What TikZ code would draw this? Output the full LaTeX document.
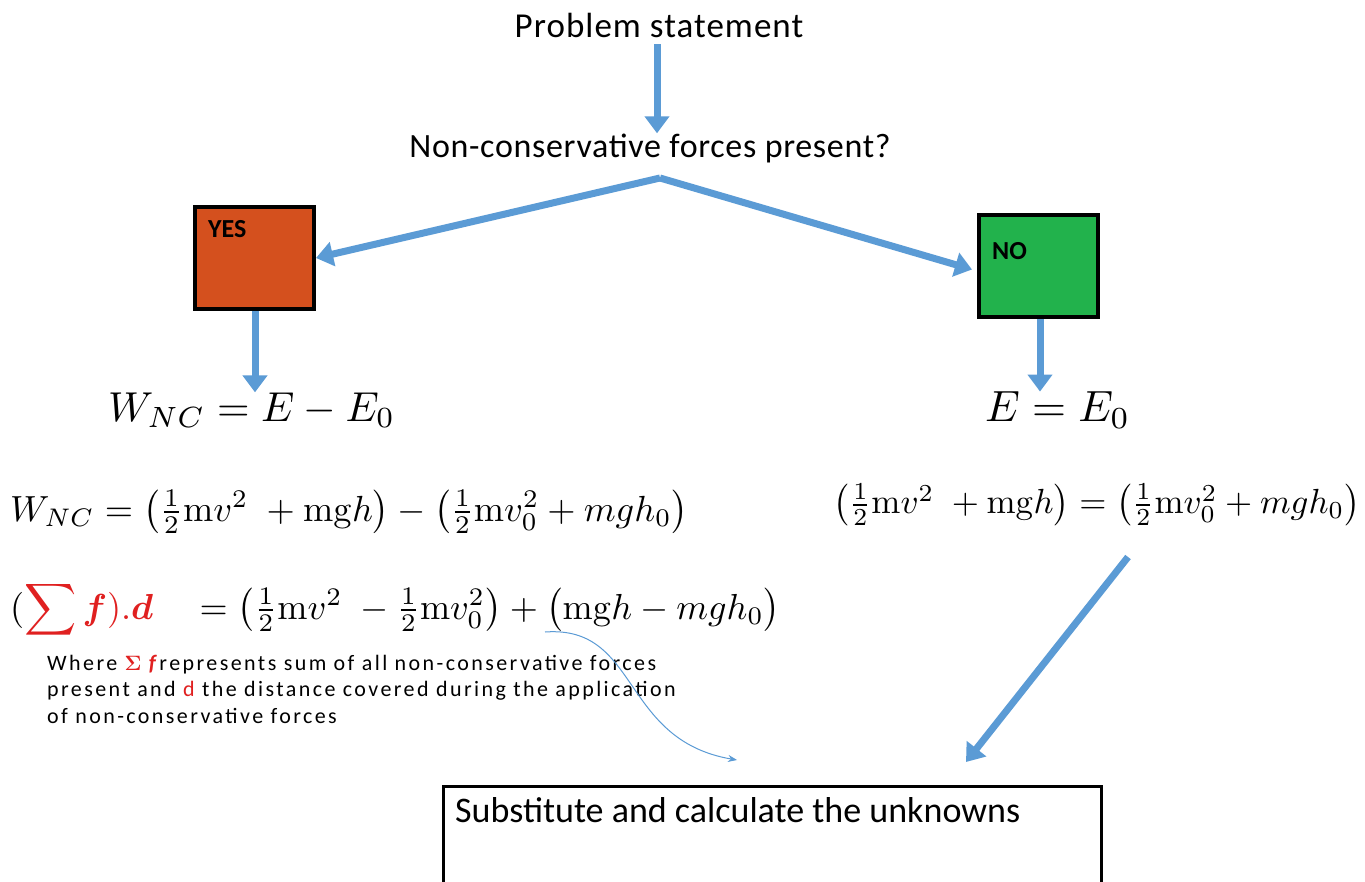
\documentclass[tikz,border=0pt]{standalone}
\usepackage[no-math]{fontspec}
\setmainfont{Carlito}
\usepackage{amsmath,bm,graphicx}
\usetikzlibrary{arrows.meta}
\definecolor{arrblue}{HTML}{5B9BD5}
\definecolor{yesred}{HTML}{D4501E}
\definecolor{nogreen}{HTML}{22B24C}
\definecolor{txtred}{HTML}{E02020}
\tikzset{
  bigarrow/.style={draw=arrblue, line width=7pt, -{Triangle[width=24pt,length=17pt]}},
  thinarrow/.style={draw=arrblue, line width=1pt, -{Stealth[length=9pt,width=7pt]}},
  choicebox/.style={draw=black, line width=4pt, minimum width=119pt, minimum height=102pt, inner sep=0pt},
  boxlabel/.style={anchor=north west, inner sep=0pt, font=\fontsize{26}{28}\selectfont\bfseries},
  heading/.style={inner sep=0pt, font=\fontsize{35}{38}\selectfont\addfontfeature{LetterSpace=3}},
  eqn/.style={anchor=west, inner sep=0pt},
}
\begin{document}
\begin{tikzpicture}[x=1pt,y=-1pt]
\useasboundingbox[fill=white] (0,0) rectangle (1365,882);
\node[heading] (ps) at (659,25) {Problem statement};
\node[heading, font=\fontsize{34}{38}\selectfont\addfontfeature{LetterSpace=2}] (q) at (650,148) {Non-conservative forces present?};
\coordinate (split) at (660,178);

\node[choicebox, fill=yesred] (yes) at (254.5,258) {};
\node[boxlabel] (yeslbl) at (208,220) {YES};
\node[choicebox, fill=nogreen] (no) at (1038.5,266.5) {};
\node[boxlabel] (nolbl) at (992,242) {NO};

\node[eqn] (eq1) at (108,410) {\resizebox{287pt}{!}{$W_{NC} = E - E_0$}};
\node[eqn] (eq2) at (985,410) {\resizebox{145pt}{!}{$E = E_0$}};
\node[eqn] (eq3) at (10,512) {\resizebox{678pt}{!}{$W_{NC} = \bigl(\tfrac{1}{2}\mathrm{m}v^2\;+\mathrm{mg}h\bigr) - \bigl(\tfrac{1}{2}\mathrm{m}v_0^2+mgh_0\bigr)$}};
\node[eqn] (eq4) at (833,505) {\resizebox{527pt}{!}{$\bigl(\tfrac{1}{2}\mathrm{m}v^2\;+\mathrm{mg}h\bigr) = \bigl(\tfrac{1}{2}\mathrm{m}v_0^2+mgh_0\bigr)$}};
\node[eqn] (eq5) at (10,610) {\resizebox{770pt}{!}{$(\textcolor{txtred}{\displaystyle\sum\bm{f}).\bm{d}}\quad = \bigl(\tfrac{1}{2}\mathrm{m}v^2\;-\tfrac{1}{2}\mathrm{m}v_0^2\bigr) + \bigl(\mathrm{mg}h - mgh_0\bigr)$}};

\node[anchor=north west, inner sep=0pt, align=left, font=\fontsize{22}{26.5}\selectfont\addfontfeature{LetterSpace=11}] (where) at (47,655)
  {Where \textcolor{txtred}{$\bm{\Sigma}$ \textbf{\textit{f}}}represents sum of all non-conservative forces\\
   present and \textcolor{txtred}{d} the distance covered during the application\\
   of non-conservative forces};

\node[draw=black, line width=3pt, anchor=north west, minimum width=658pt, minimum height=120pt, inner sep=0pt] (sub) at (442,785) {};
\node[anchor=north west, inner sep=0pt, font=\fontsize{36}{40}\selectfont] (subtxt) at (455,797) {Substitute and calculate the unknowns};

\coordinate (c1) at (545,632);
\coordinate (c2) at (737,760);
\coordinate (r1) at (1128,557);
\coordinate (r2) at (966,762);

\draw[bigarrow] (ps.south) ++(-2,7) coordinate (p1) -- (p1 |- q.north) ;
\draw[bigarrow] (split) -- (yes.east);
\draw[bigarrow] (split) -- ([xshift=-5pt,yshift=-3pt]no.west);
\draw[bigarrow] ([xshift=0.5pt]yes.south) -- ([xshift=0.5pt]yes.south |- eq1.north);
\draw[bigarrow] ([xshift=1.5pt]no.south) -- ([xshift=1.5pt]no.south |- eq2.north);
\draw[bigarrow] (r1) -- (r2);
\draw[thinarrow] (c1) .. controls (640,625) and (620,740) .. (c2);
\end{tikzpicture}
\end{document}
